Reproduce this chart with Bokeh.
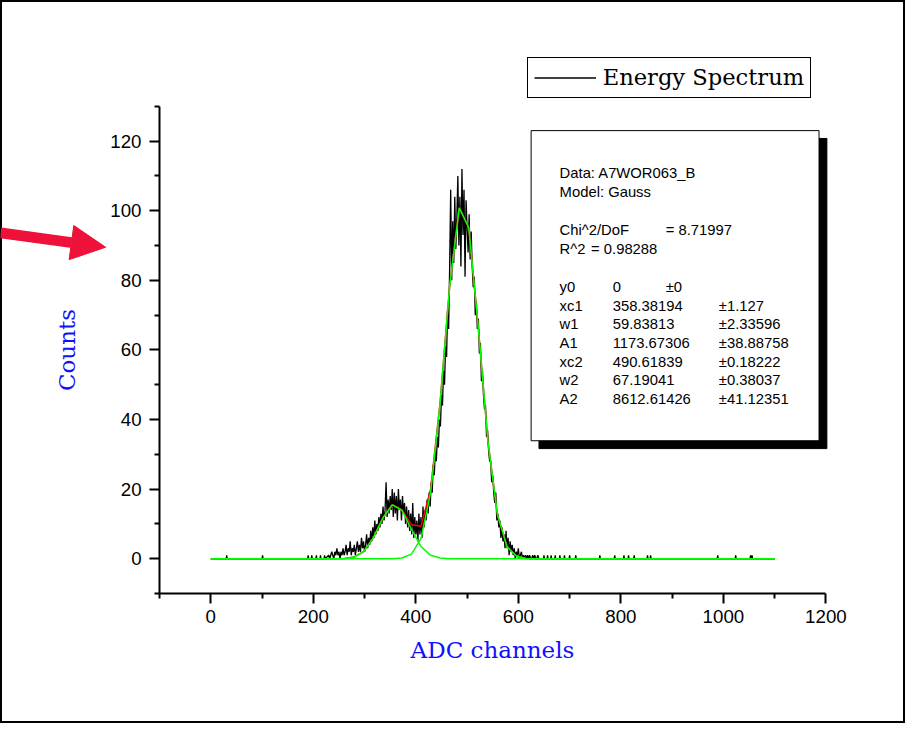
import numpy as np
from bokeh.plotting import figure
from bokeh.models import (Range1d, LinearAxis, FixedTicker, BoxAnnotation, Label,
                          Legend, LegendItem, Arrow, NormalHead)
from bokeh.embed import file_html
from bokeh.resources import INLINE

# ---------------- data ----------------
region_start = 230
region_step = 2
region_counts = [
    1, 0, 1, 2, 1, 0, 2, 1, 3, 1,
    2, 0, 2, 1, 3, 1, 2, 4, 1, 3,
    2, 5, 1, 3, 2, 4, 1, 3, 5, 2,
    4, 2, 6, 3, 5, 2, 4, 7, 3, 6,
    4, 8, 5, 9, 6, 11, 7, 10, 8, 12,
    9, 13, 10, 15, 11, 14, 22, 12, 17, 13,
    18, 14, 20, 12, 19, 13, 18, 11, 20, 14,
    17, 11, 18, 13, 16, 10, 15, 9, 14, 8,
    13, 7, 16, 6, 12, 7, 11, 5, 13, 7,
    12, 6, 15, 9, 14, 11, 17, 13, 19, 15,
    22, 19, 27, 24, 31, 28, 35, 32, 40, 38,
    47, 44, 54, 50, 61, 58, 72, 66, 84, 106,
    80, 97, 85, 104, 89, 98, 110, 90, 104, 84,
    112, 93, 106, 81, 103, 95, 88, 99, 86, 94,
    84, 78, 81, 70, 74, 66, 69, 59, 62, 51,
    54, 47, 43, 44, 35, 37, 31, 28, 28, 22,
    24, 19, 16, 19, 11, 13, 9, 11, 6, 9,
    5, 7, 3, 8, 3, 6, 1, 5, 2, 4,
    1, 3, 0, 2, 1, 3, 0, 1, 2, 0,
    1, 0, 1, 0, 1, 0, 1, 0, 0, 1,
    0, 1, 0, 0, 1, 0,
]
spike_channels = [31, 101, 190, 197, 206, 214, 222, 650, 657, 664, 672, 681, 690,
                  700, 712, 759, 788, 806, 815, 826, 852, 858, 989, 1024, 1053, 1056]
spike_counts = [1] * len(spike_channels)
spectrum_first, spectrum_last = 0, 1100

fit_first, fit_last, fit_points = 0, 1100, 60
peak1_fit = [0, 0, 0, 0, 0, 0, 0, 0, 0, 0,
             0, 0, 0, 0.01, 0.08, 0.49, 2.08, 6.0, 11.7, 15.5,
             13.9, 8.47, 3.5, 0.98, 0.19, 0.02, 0, 0, 0, 0,
             0, 0, 0, 0, 0, 0, 0, 0, 0, 0,
             0, 0, 0, 0, 0, 0, 0, 0, 0, 0,
             0, 0, 0, 0, 0, 0, 0, 0, 0, 0]
peak2_fit = [0, 0, 0, 0, 0, 0, 0, 0, 0, 0,
             0, 0, 0, 0, 0, 0, 0, 0, 0, 0.03,
             0.22, 1.32, 5.86, 18.9, 44.8, 78.4, 100.8, 95.1, 66.1, 33.7,
             12.6, 3.48, 0.70, 0.10, 0.01, 0, 0, 0, 0, 0,
             0, 0, 0, 0, 0, 0, 0, 0, 0, 0,
             0, 0, 0, 0, 0, 0, 0, 0, 0, 0]

x_major = [0, 200, 400, 600, 800, 1000, 1200]
x_minor = [-100, 100, 300, 500, 700, 900, 1100]
y_major = [0, 20, 40, 60, 80, 100, 120]
y_minor = [-10, 10, 30, 50, 70, 90, 110, 130]
x_bounds = (-100, 1200)
y_bounds = (-10, 130)

legend_label = "Energy Spectrum"
x_title = "ADC channels"
y_title = "Counts"

stats_header = ["Data: A7WOR063_B", "Model: Gauss"]
stats_fit = [("Chi^2/DoF", "= 8.71997"), ("R^2", "=  0.98288")]
param_names = ["y0", "xc1", "w1", "A1", "xc2", "w2", "A2"]
param_values = ["0", "358.38194", "59.83813", "1173.67306", "490.61839", "67.19041", "8612.61426"]
param_errors = ["\u00b10", "\u00b11.127", "\u00b12.33596", "\u00b138.88758", "\u00b10.18222",
                "\u00b10.38037", "\u00b141.12351"]

# ---------------- build series ----------------
region_x = [region_start + i * region_step for i in range(len(region_counts))]
pts = [(spectrum_first, 0)]
for c, v in zip(spike_channels, spike_counts):
    if c < region_start:
        pts += [(c - 1, 0), (c, v), (c + 1, 0)]
pts += list(zip(region_x, region_counts))
for c, v in zip(spike_channels, spike_counts):
    if c > region_x[-1]:
        pts += [(c - 1, 0), (c, v), (c + 1, 0)]
pts.append((spectrum_last, 0))
spec_x = [a for a, b in pts]
spec_y = [b for a, b in pts]

fit_x = np.linspace(fit_first, fit_last, fit_points)
total_fit = np.array(peak1_fit) + np.array(peak2_fit)

# ---------------- layout (reference is 921x739, canvas scaled to fit) ----------------
W, H = 905, 723
REF_W, REF_H = 921, 739
KX, KY = W / REF_W, H / REF_H


def cx(ref_x):          # reference pixel x -> frame screen x
    return ref_x * KX


def cy(ref_y):          # reference pixel y -> frame screen y (from bottom)
    return H - ref_y * KY


# reference pixel positions of axis ticks
ref_x0, ref_x1200 = 214.0, 840.0
ref_y0, ref_y120 = 570.6, 143.7
sx_scale = (ref_x1200 - ref_x0) * KX / 1200.0
sy_scale = (ref_y0 - ref_y120) * KY / 120.0
x_start = -ref_x0 * KX / sx_scale
y_end = ref_y0 * KY / sy_scale

p = figure(width=W, height=H,
           x_range=Range1d(x_start, x_start + W / sx_scale),
           y_range=Range1d(y_end - H / sy_scale, y_end),
           x_axis_type=None, y_axis_type=None,
           output_backend="svg", toolbar_location=None, min_border=0)
p.min_border_left = p.min_border_right = p.min_border_top = p.min_border_bottom = 0
p.outline_line_color = "black"
p.outline_line_width = 3
p.background_fill_color = "white"
p.border_fill_color = "white"


def style_axis(ax):
    ax.axis_line_width = 2
    ax.axis_line_color = "black"
    ax.major_tick_line_width = 2
    ax.minor_tick_line_width = 2
    ax.major_tick_out = 10
    ax.major_tick_in = 0
    ax.minor_tick_out = 5
    ax.minor_tick_in = 0
    ax.major_label_text_font = "Liberation Sans"
    ax.major_label_text_font_size = "18.7px"
    ax.major_label_text_color = "black"
    ax.axis_label_text_font = "DejaVu Serif"
    ax.axis_label_text_font_size = "23px"
    ax.axis_label_text_font_style = "normal"
    ax.axis_label_text_color = "#1010ff"


xaxis = LinearAxis(fixed_location=y_bounds[0], bounds=x_bounds,
                   ticker=FixedTicker(ticks=x_major, minor_ticks=x_minor),
                   axis_label=x_title)
style_axis(xaxis)
xaxis.major_label_standoff = 6
xaxis.axis_label_standoff = 11
p.add_layout(xaxis, "below")

yaxis = LinearAxis(fixed_location=x_bounds[0], bounds=y_bounds,
                   ticker=FixedTicker(ticks=y_major, minor_ticks=y_minor),
                   axis_label=y_title)
style_axis(yaxis)
yaxis.major_label_standoff = 8
yaxis.axis_label_standoff = 27
p.add_layout(yaxis, "left")

spec_r = p.line(spec_x, spec_y, line_color="black", line_width=1.3)
p.line(fit_x, total_fit, line_color="#ff0000", line_width=1.5)
p.line(fit_x, peak1_fit, line_color="#00ff00", line_width=1.5)
p.line(fit_x, peak2_fit, line_color="#00ff00", line_width=1.5)

# legend
legend = Legend(items=[LegendItem(label=legend_label, renderers=[spec_r])],
                location=(cx(536), cy(100)),
                border_line_color="black", border_line_width=1, border_line_alpha=1,
                background_fill_color="white", background_fill_alpha=1,
                label_text_font="DejaVu Serif", label_text_font_size="22.6px",
                label_text_color="black",
                glyph_width=62, glyph_height=27, label_height=27,
                label_standoff=7, padding=6, margin=0, spacing=0)
p.add_layout(legend)

# stats box with shadow
shadow = BoxAnnotation(left=cx(548), right=cx(841), top=cy(141), bottom=cy(458),
                       left_units="screen", right_units="screen",
                       top_units="screen", bottom_units="screen",
                       fill_color="black", fill_alpha=1, line_color="black", line_alpha=1)
box = BoxAnnotation(left=cx(540), right=cx(833), top=cy(133), bottom=cy(450),
                    left_units="screen", right_units="screen",
                    top_units="screen", bottom_units="screen",
                    fill_color="white", fill_alpha=1, line_color="black",
                    line_alpha=1, line_width=1)
p.add_layout(shadow)
p.add_layout(box)


def add_text(ref_x, ref_y, txt):
    p.add_layout(Label(x=cx(ref_x), y=cy(ref_y), x_units="screen", y_units="screen",
                       text=txt, text_font="Liberation Sans", text_font_size="14.8px",
                       text_color="black", text_baseline="middle", text_align="left"))


col_label, col_value, col_err = 569, 623, 731
for i, t in enumerate(stats_header):
    add_text(col_label, 176.5 + i * 19, t)
fit_value_x = [677, 601]
for i, (lab, val) in enumerate(stats_fit):
    add_text(col_label, 234.5 + i * 19, lab)
    add_text(fit_value_x[i], 234.5 + i * 19, val)
for i, (n, v, e) in enumerate(zip(param_names, param_values, param_errors)):
    yy = 293 + i * 19
    add_text(col_label, yy, n)
    add_text(col_value, yy, v)
    add_text(677 if i == 0 else col_err, yy, e)

# red arrow
arrow = Arrow(x_start=cx(0), y_start=cy(237.5), x_end=cx(107), y_end=cy(252.2),
              start_units="screen", end_units="screen",
              line_color="#ee1139", line_width=10.8,
              end=NormalHead(size=34.5, fill_color="#ee1139", line_color="#ee1139", line_width=1))
p.add_layout(arrow)

open("out.html", "w").write(file_html(p, INLINE))
